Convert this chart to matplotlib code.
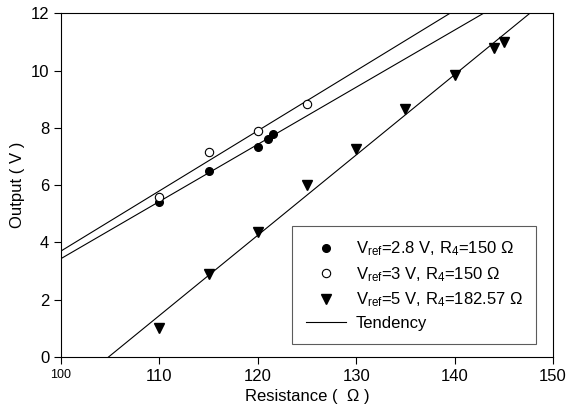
import numpy as np
import matplotlib
matplotlib.use('Agg')
import matplotlib.pyplot as plt

plt.rcParams['font.family'] = ['Liberation Sans', 'DejaVu Sans']
plt.rcParams['mathtext.default'] = 'regular'

# measured points
r_28 = [110, 115, 120, 121, 121.6]
v_28 = [5.4, 6.5, 7.35, 7.6, 7.8]

r_3 = [110, 115, 120, 125]
v_3 = [5.6, 7.15, 7.9, 8.85]

r_5 = [110, 115, 120, 125, 130, 135, 140, 144, 145]
v_5 = [1.0, 2.9, 4.35, 6.0, 7.25, 8.65, 9.85, 10.8, 11.0]

x_ticks = [100, 110, 120, 130, 140, 150]
y_ticks = [0, 2, 4, 6, 8, 10, 12]

fig = plt.figure(figsize=(5.7, 4.18), dpi=100)
ax = fig.add_axes([0.107, 0.146, 0.863, 0.822])

# tendency lines (linear fits)
xx = np.array([95, 155])
for r, v in [(r_28, v_28), (r_3, v_3), (r_5, v_5)]:
    k, b = np.polyfit(r, v, 1)
    ax.plot(xx, k * xx + b, color='black', lw=0.8)

ax.plot(r_28, v_28, 'o', color='black', ms=5.5,
        label=r'V$_{ref}$=2.8 V, R$_{4}$=150 Ω')
ax.plot(r_3, v_3, 'o', mfc='white', mec='black', mew=0.8, ms=6,
        label=r'V$_{ref}$=3 V, R$_{4}$=150 Ω')
ax.plot(r_5, v_5, 'v', color='black', ms=7,
        label=r'V$_{ref}$=5 V, R$_{4}$=182.57 Ω')
ax.plot([], [], color='black', lw=0.8, label='Tendency')

ax.set_xlim(100, 150)
ax.set_ylim(0, 12)
ax.set_xticks(x_ticks)
ax.set_yticks(y_ticks)
ax.tick_params(labelsize=12, direction='out', length=5)
lbls = ax.get_xticklabels()
lbls[0].set_fontsize(9)

ax.set_xlabel('Resistance (  Ω )', fontsize=12)
ax.set_ylabel('Output ( V )', fontsize=12)

leg = ax.legend(loc='upper left', bbox_to_anchor=(0.47, 0.38), fontsize=12,
                frameon=True, fancybox=False, edgecolor='#333333',
                handlelength=2.4, handletextpad=0.6, borderpad=0.8,
                labelspacing=0.4, borderaxespad=0)
leg.get_frame().set_linewidth(0.8)

plt.savefig('out.png', dpi=100)
